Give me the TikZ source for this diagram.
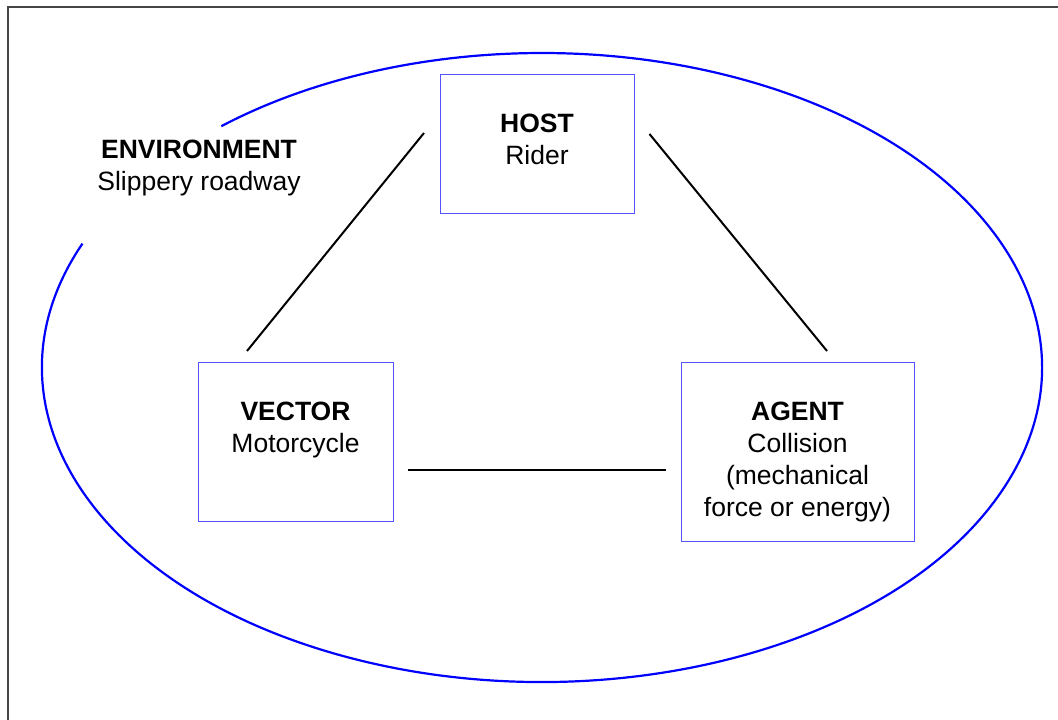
\documentclass[tikz,border=0pt]{standalone}
\usepackage{fontspec}
\setmainfont{Liberation Sans}
\usetikzlibrary{calc}
\definecolor{boxblue}{RGB}{85,85,255}
\definecolor{ringblue}{RGB}{0,0,255}
\definecolor{framegray}{RGB}{70,70,70}
\begin{document}
\begin{tikzpicture}[x=1pt,y=1pt,
  boxnode/.style={draw=boxblue,line width=1pt,inner sep=0pt,outer sep=0pt},
  lbl/.style={anchor=base,inner sep=0pt,font=\fontsize{26.5}{32}\selectfont},
  blbl/.style={lbl,font=\fontsize{26.5}{32}\selectfont\bfseries},
  link/.style={draw=black,line width=2pt}]
\useasboundingbox (0,0) rectangle (1058,720);
% frame (left and top edges only)
\draw[framegray,line width=2pt] (8,0) -- (8,713) -- (1058,713);
% environment ellipse with gap
\coordinate (ec) at (542,352.5);
\draw[ringblue,line width=2.2pt] ($(ec)+(156.8:500pt and 314.5pt)$)
  arc[start angle=156.8,end angle=489.9,x radius=500pt,y radius=314.5pt];
% boxes
\node[boxnode,minimum width=194pt,minimum height=139pt] (host) at (537,575.5) {};
\node[boxnode,minimum width=195pt,minimum height=159pt] (vector) at (295.5,277.5) {};
\node[boxnode,minimum width=233pt,minimum height=179pt] (agent) at (797.5,267.5) {};
% texts
\node[blbl] (env1) at (199,561) {ENVIRONMENT};
\node[lbl] (env2) at (199,529) {Slippery roadway};
\node[blbl] (host1) at (537,587) {HOST};
\node[lbl] (host2) at (537,555) {Rider};
\node[blbl] (vec1) at (295.5,299) {VECTOR};
\node[lbl] (vec2) at (295.5,267) {Motorcycle};
\node[blbl] (ag1) at (797.5,299) {AGENT};
\node[lbl] (ag2) at (797.5,267) {Collision};
\node[lbl] (ag3) at (797.5,235) {(mechanical};
\node[lbl] (ag4) at (797.5,203) {force or energy)};
% connector ends
\coordinate (hv1) at ($(host.west)+(-16,11.5)$);
\coordinate (hv2) at ($(vector.north)+(-48.5,12)$);
\coordinate (ha1) at ($(host.east)+(15.5,10.5)$);
\coordinate (ha2) at ($(agent.north)+(29.5,12)$);
\coordinate (va1) at ($(vector.east)+(15,-27.5)$);
\coordinate (va2) at ($(agent.west)+(-15,-17.5)$);
\draw[link] (hv1) -- (hv2);
\draw[link] (ha1) -- (ha2);
\draw[link] (va1) -- (va2);
\end{tikzpicture}
\end{document}
